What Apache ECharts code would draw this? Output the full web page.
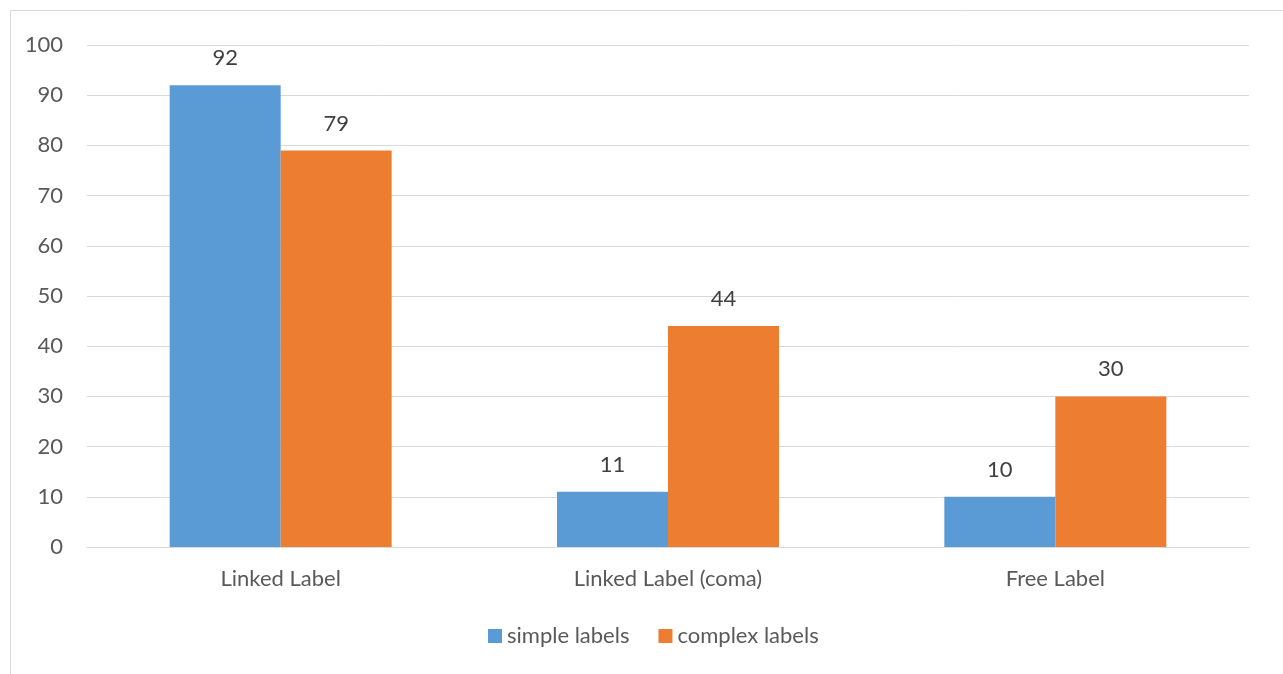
<!DOCTYPE html>
<html>
<head>
<meta charset="utf-8">
<script src="https://cdn.jsdelivr.net/npm/echarts@6/dist/echarts.min.js"></script>
<style>
  html, body { margin: 0; padding: 0; background: #ffffff; }
  #chart { width: 1283px; height: 674px; }
</style>
</head>
<body>
<div id="chart"></div>
<script>
// Categories and values for the two label series
const categories = ['Linked Label', 'Linked Label (coma)', 'Free Label'];
const simpleLabels = [92, 11, 10];
const complexLabels = [79, 44, 30];
const seriesNames = ['simple labels', 'complex labels'];

const FONT = 'Lato, "Open Sans", sans-serif';
const chart = echarts.init(document.getElementById('chart'), null, { renderer: 'canvas' });

const valueLabel = {
  show: true,
  position: 'top',
  distance: 16,
  color: '#404040',
  fontFamily: FONT,
  fontSize: 22
};

chart.setOption({
  animation: false,
  backgroundColor: '#ffffff',
  graphic: [{
    type: 'rect',
    shape: { x: 10.5, y: 10.5, width: 1300, height: 700 },
    style: { fill: 'none', stroke: '#d9d9d9', lineWidth: 1 },
    silent: true
  }],
  grid: { left: 87, right: 34, top: 45, bottom: 127 },
  legend: {
    bottom: 22,
    left: 483,
    itemWidth: 14,
    itemHeight: 14,
    itemGap: 29,
    icon: 'rect',
    textStyle: { color: '#595959', fontFamily: FONT, fontSize: 22 },
    data: seriesNames
  },
  xAxis: {
    type: 'category',
    data: categories,
    axisLine: { lineStyle: { color: '#d9d9d9', width: 1 } },
    axisTick: { show: false },
    axisLabel: { color: '#595959', fontFamily: FONT, fontSize: 22, margin: 21 }
  },
  yAxis: {
    type: 'value',
    min: 0,
    max: 100,
    interval: 10,
    axisLine: { show: false },
    axisTick: { show: false },
    splitLine: { lineStyle: { color: '#d9d9d9', width: 1 } },
    axisLabel: { color: '#595959', fontFamily: FONT, fontSize: 22, margin: 24 }
  },
  series: [
    {
      name: seriesNames[0],
      type: 'bar',
      data: simpleLabels,
      barWidth: 111,
      barGap: '0%',
      itemStyle: { color: '#5b9bd5' },
      label: valueLabel
    },
    {
      name: seriesNames[1],
      type: 'bar',
      data: complexLabels,
      barWidth: 111,
      barGap: '0%',
      itemStyle: { color: '#ed7d31' },
      label: valueLabel
    }
  ]
});
</script>
</body>
</html>
